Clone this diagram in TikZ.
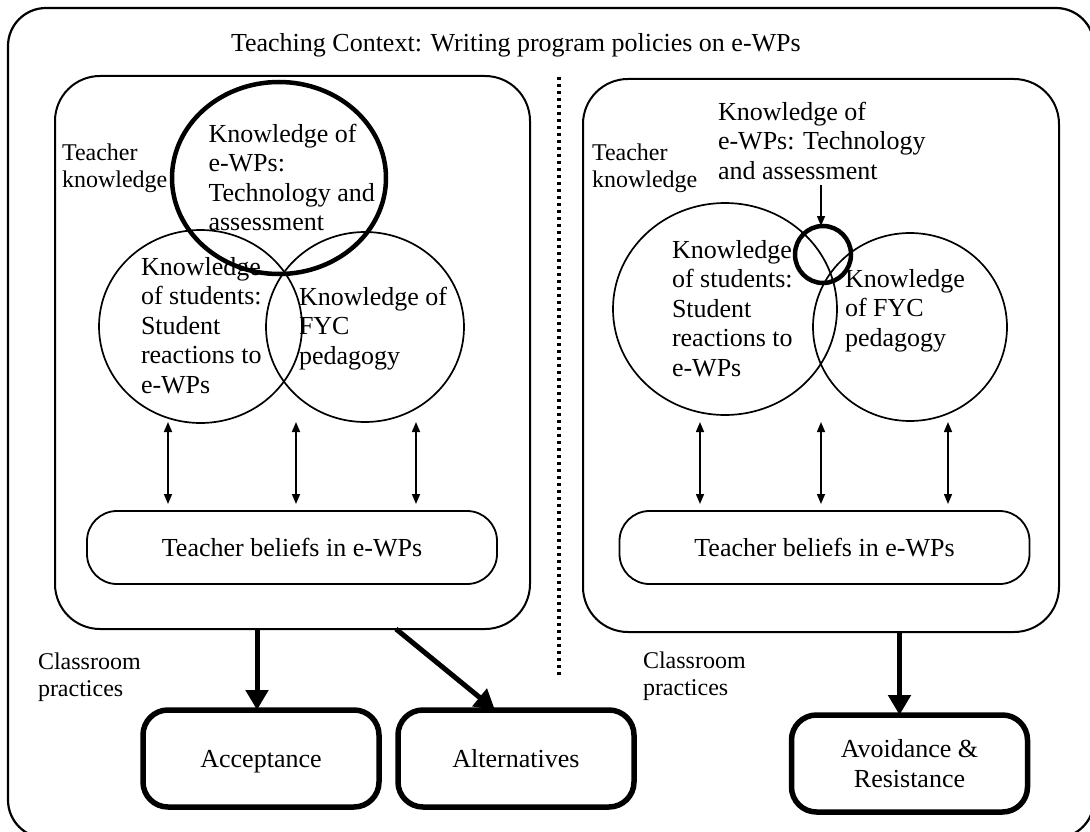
\documentclass[tikz,border=0pt]{standalone}
\usepackage{fontspec}
\setmainfont{Liberation Serif}
\usetikzlibrary{arrows.meta,shapes.geometric}
\begin{document}
\begin{tikzpicture}[x=1pt,y=-1pt,
  every node/.style={inner sep=0pt, outer sep=0pt},
  bigtext/.style={font=\fontsize{26}{29.5}\selectfont},
  lbltext/.style={font=\fontsize{24}{27.5}\selectfont, align=left, anchor=north west},
  circtext/.style={bigtext, align=left, anchor=north west},
  framebox/.style={draw, rectangle, line width=2pt, rounded corners=#1},
  kcirc/.style={draw, ellipse, line width=1.7pt},
  kthick/.style={draw, ellipse, line width=4.5pt},
  beliefbox/.style={draw, rectangle, rounded corners=30pt, line width=1.8pt, minimum width=410pt, minimum height=73pt, bigtext},
  outbox/.style={draw, rectangle, rounded corners=25pt, line width=5.5pt, minimum width=236pt, minimum height=97pt, bigtext, align=center},
  oneline/.style={text height=19pt, text depth=2pt},
  dbl/.style={{Triangle[length=10pt,width=8pt]}-{Triangle[length=10pt,width=8pt]}, line width=1.5pt},
  thinarrow/.style={-{Triangle[length=10pt,width=8pt]}, line width=1.5pt},
  bigarrow/.style={-{Triangle[length=20pt,width=22pt]}, line width=5pt},
  dotline/.style={line width=3.5pt, dash pattern=on 3pt off 4pt}
]
\clip (0,0) rectangle (1090,832);

% frames
\node[framebox=38pt, minimum width=1086pt, minimum height=830pt, line width=2.2pt] (outer) at (551,423) {};
\node[framebox=45pt, minimum width=475pt, minimum height=553pt] (innerL) at (292.5,352.5) {};
\node[framebox=45pt, minimum width=476pt, minimum height=553pt] (innerR) at (821,355.5) {};
\node[bigtext, anchor=base west] (title) at (231,52) {Teaching Context: Writing program policies on e-WPs};
\coordinate (dotTop) at (559,77);
\coordinate (dotBot) at (559,675);
\draw[dotline] (dotTop) -- (dotBot);

% left panel
\node[lbltext] (tkL) at (62,143.6) {Teacher\\knowledge};
\node[circtext] (topLt) at (208.5,124) {Knowledge of\\e-WPs:\\Technology and\\assessment};
\node[circtext] (studLt) at (141,257) {Knowledge\\of students:\\Student\\reactions to\\e-WPs};
\node[circtext] (fycLt) at (299,287) {Knowledge of\\FYC\\pedagogy};
\node[kthick, minimum width=214pt, minimum height=192pt] (topL) at (279,178) {};
\node[kcirc, minimum width=203pt, minimum height=193pt] (studL) at (200.5,326.5) {};
\node[kcirc, minimum width=198pt, minimum height=190pt] (fycL) at (365,327) {};
\node[beliefbox] (belL) at (292,547.5) {Teacher beliefs in e-WPs};
\coordinate (aL1) at (168,422);
\coordinate (aL2) at (296,422);
\coordinate (aL3) at (416,422);
\draw[dbl, shorten >=7pt] (aL1) -- (aL1 |- belL.north);
\draw[dbl, shorten >=7pt] (aL2) -- (aL2 |- belL.north);
\draw[dbl, shorten >=7pt] (aL3) -- (aL3 |- belL.north);
\node[lbltext] (classL) at (38,652.6) {Classroom\\practices};
\node[outbox, oneline] (acc) at (261,758.5) {Acceptance};
\node[outbox, oneline] (alt) at (516,758.5) {Alternatives};
\coordinate (accTop) at ([xshift=-4pt]acc.north);
\draw[bigarrow] (accTop |- innerL.south) -- (accTop);
\coordinate (diagStart) at (396,629);
\draw[bigarrow] (diagStart) -- ([xshift=-21pt]alt.north);

% right panel
\node[lbltext] (tkR) at (592,143.6) {Teacher\\knowledge};
\node[circtext] (topRt) at (718,102) {Knowledge of\\e-WPs: Technology\\and assessment};
\node[circtext] (studRt) at (672,240) {Knowledge\\of students:\\Student\\reactions to\\e-WPs};
\node[circtext] (fycRt) at (845,269) {Knowledge\\of FYC\\pedagogy};
\node[kcirc, minimum width=224pt, minimum height=212pt] (studR) at (725,309) {};
\node[kcirc, minimum width=194pt, minimum height=188pt] (fycR) at (910,327) {};
\node[kthick, minimum width=56pt, minimum height=57pt] (smallR) at (823,254.5) {};
\coordinate (tR) at (821,185);
\draw[thinarrow] (tR) -- (tR |- smallR.north);
\node[beliefbox] (belR) at (824.5,547.5) {Teacher beliefs in e-WPs};
\coordinate (aR1) at (700,422);
\coordinate (aR2) at (821,422);
\coordinate (aR3) at (948,422);
\draw[dbl, shorten >=7pt] (aR1) -- (aR1 |- belR.north);
\draw[dbl, shorten >=7pt] (aR2) -- (aR2 |- belR.north);
\draw[dbl, shorten >=7pt] (aR3) -- (aR3 |- belR.north);
\node[lbltext] (classR) at (643,651.6) {Classroom\\practices};
\node[outbox] (avoid) at (909.5,763.5) {Avoidance \&\\Resistance};
\coordinate (avTop) at ([xshift=-10pt]avoid.north);
\draw[bigarrow] (avTop |- innerR.south) -- (avTop);
\end{tikzpicture}
\end{document}
